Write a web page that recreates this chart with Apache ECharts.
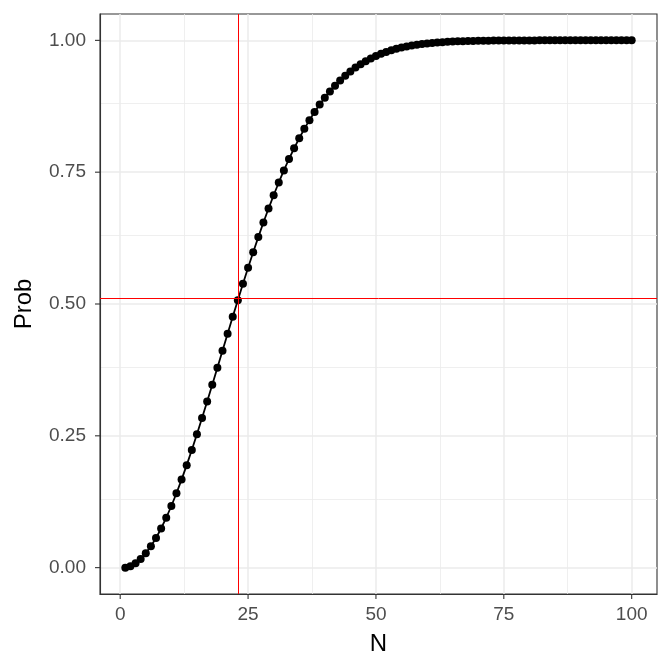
<!DOCTYPE html>
<html>
<head>
<meta charset="utf-8">
<script src="https://cdn.jsdelivr.net/npm/echarts@6/dist/echarts.min.js"></script>
<style>html,body{margin:0;padding:0;background:#fff}#c{width:672px;height:672px}</style>
</head>
<body>
<div id="c"></div>
<script>
// Data (N = 1..100, probability)
var nValues = [];
for (var i = 1; i <= 100; i++) nValues.push(i);
var probValues = [
0.0000,0.0027,0.0082,0.0164,0.0271,0.0405,0.0562,0.0743,0.0946,0.1169,
0.1411,0.1670,0.1944,0.2231,0.2529,0.2836,0.3150,0.3469,0.3791,0.4114,
0.4437,0.4757,0.5073,0.5383,0.5687,0.5982,0.6269,0.6545,0.6810,0.7063,
0.7305,0.7533,0.7750,0.7953,0.8144,0.8322,0.8487,0.8641,0.8782,0.8912,
0.9032,0.9140,0.9239,0.9329,0.9410,0.9483,0.9548,0.9606,0.9658,0.9704,
0.9744,0.9780,0.9811,0.9839,0.9863,0.9883,0.9901,0.9917,0.9930,0.9941,
0.9951,0.9959,0.9966,0.9972,0.9977,0.9981,0.9984,0.9987,0.9990,0.9992,
0.9993,0.9995,0.9996,0.9996,0.9997,0.9998,0.9998,0.9999,0.9999,0.9999,
0.9999,1.0000,1.0000,1.0000,1.0000,1.0000,1.0000,1.0000,1.0000,1.0000,
1.0000,1.0000,1.0000,1.0000,1.0000,1.0000,1.0000,1.0000,1.0000,1.0000
];
var xTicks = [0, 25, 50, 75, 100];
var xMinor = [12.5, 37.5, 62.5, 87.5];
var yTicks = [0, 0.25, 0.5, 0.75, 1];
var yMinor = [0.125, 0.375, 0.625, 0.875];
var vLineX = 23;
var hLineY = 0.5073;

var xMin = -3.95, xMax = 104.95, yMin = -0.05, yMax = 1.05;

var points = nValues.map(function (n, i) { return [n, probValues[i]]; });

function gl(arr, key, w) {
  return arr.map(function (v) { var o = {}; o[key] = v; o.lineStyle = {width: w, color: '#EBEBEB', type: 'solid'}; return o; });
}

// tick marks: [axis, value]
var tickData = xTicks.map(function (v) { return ['x', v]; }).concat(yTicks.map(function (v) { return ['y', v]; }));

var chart = echarts.init(document.getElementById('c'), null, {renderer: 'canvas'});
var font = 'Liberation Sans, Arial, sans-serif';
chart.setOption({
  animation: false,
  backgroundColor: '#ffffff',
  grid: {left: 100, right: 15, top: 14, bottom: 78, show: true, borderColor: '#333333', borderWidth: 1.1, backgroundColor: 'transparent'},
  xAxis: {
    type: 'value', min: xMin, max: xMax,
    name: 'N', nameLocation: 'middle', nameGap: 38,
    nameTextStyle: {fontFamily: font, fontSize: 24, color: '#000000'},
    axisLine: {show: true, onZero: false, lineStyle: {color: '#333333', width: 1.1}},
    splitLine: {show: false},
    axisTick: {show: false},
    axisLabel: {customValues: xTicks, fontFamily: font, fontSize: 19, color: '#4D4D4D', margin: 11}
  },
  yAxis: {
    type: 'value', min: yMin, max: yMax,
    name: 'Prob', nameLocation: 'middle', nameGap: 64, nameRotate: 90,
    nameTextStyle: {fontFamily: font, fontSize: 24, color: '#000000'},
    axisLine: {show: true, onZero: false, lineStyle: {color: '#333333', width: 1.1}},
    splitLine: {show: false},
    axisTick: {show: false},
    axisLabel: {customValues: yTicks, fontFamily: font, fontSize: 19, color: '#4D4D4D', margin: 14,
      formatter: function (v) { return v.toFixed(2); }}
  },
  series: [
    {
      type: 'line', data: [], silent: true, z: 0,
      markLine: {
        silent: true, symbol: 'none', animation: false, z: 0,
        label: {show: false},
        lineStyle: {color: '#EBEBEB', type: 'solid'},
        data: [].concat(gl(xMinor, 'xAxis', 0.8), gl(yMinor, 'yAxis', 0.8), gl(xTicks, 'xAxis', 1.5), gl(yTicks, 'yAxis', 1.5))
      }
    },
    {
      type: 'line', data: points, z: 3,
      symbol: 'circle', symbolSize: 8,
      itemStyle: {color: '#000000', borderWidth: 0},
      lineStyle: {color: '#000000', width: 1.8},
      showSymbol: true
    },
    {
      type: 'line', data: [], silent: true, z: 6,
      markLine: {
        silent: true, symbol: 'none', animation: false, z: 6,
        label: {show: false},
        lineStyle: {color: '#FF0000', type: 'solid', width: 1},
        data: [{xAxis: vLineX}, {yAxis: hLineY}]
      }
    },
    {
      type: 'custom', silent: true, clip: false, z: 7,
      data: tickData,
      renderItem: function (params, api) {
        var d = tickData[params.dataIndex];
        var p, shape;
        if (d[0] === 'x') {
          p = api.coord([d[1], yMin]);
          shape = {x1: p[0], y1: p[1], x2: p[0], y2: p[1] + 5};
        } else {
          p = api.coord([xMin, d[1]]);
          shape = {x1: p[0], y1: p[1], x2: p[0] - 5, y2: p[1]};
        }
        return {type: 'line', shape: shape, style: {stroke: '#333333', lineWidth: 1.1}};
      }
    }
  ]
});
</script>
</body>
</html>
